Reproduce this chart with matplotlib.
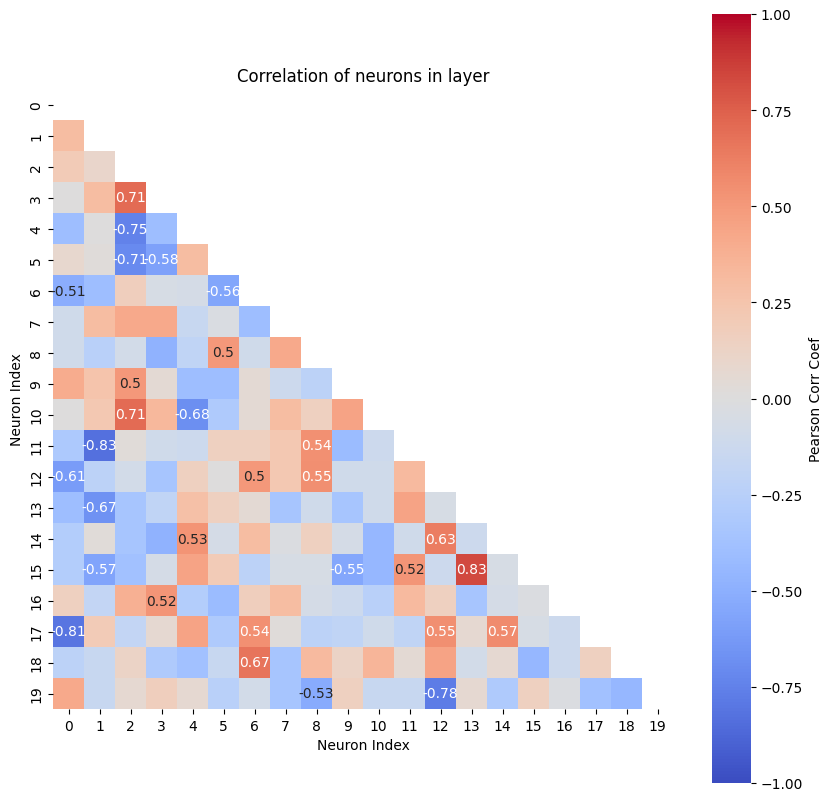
import numpy as np
import matplotlib
matplotlib.use("Agg")
import matplotlib.pyplot as plt
import seaborn as sns

# lower triangle of the correlation matrix, row i holds columns 0..i-1
lower = [
    [],
    [0.30],
    [0.20, 0.10],
    [0.00, 0.30, 0.71],
    [-0.40, 0.00, -0.75, -0.40],
    [0.08, 0.02, -0.71, -0.58, 0.30],
    [-0.51, -0.40, 0.17, -0.05, -0.07, -0.56],
    [-0.10, 0.30, 0.42, 0.42, -0.15, -0.03, -0.40],
    [-0.10, -0.25, -0.08, -0.48, -0.20, 0.50, -0.10, 0.42],
    [0.40, 0.25, 0.50, 0.05, -0.40, -0.40, 0.05, -0.12, -0.22],
    [0.00, 0.22, 0.71, 0.33, -0.68, -0.30, 0.05, 0.30, 0.15, 0.45],
    [-0.32, -0.83, 0.03, -0.10, -0.12, 0.15, 0.15, 0.22, 0.54, -0.42, -0.12],
    [-0.61, -0.22, -0.08, -0.35, 0.15, 0.00, 0.50, 0.22, 0.55, -0.10, -0.10, 0.32],
    [-0.40, -0.67, -0.35, -0.20, 0.28, 0.15, 0.05, -0.35, -0.10, -0.35, -0.10, 0.45, -0.05],
    [-0.28, 0.03, -0.35, -0.48, 0.53, -0.07, 0.30, -0.02, 0.15, -0.07, -0.45, -0.10, 0.63, -0.12],
    [-0.28, -0.57, -0.38, -0.07, 0.45, 0.20, -0.22, -0.05, -0.05, -0.55, -0.45, 0.52, -0.12, 0.83, -0.05],
    [0.15, -0.18, 0.38, 0.52, -0.28, -0.42, 0.17, 0.30, -0.07, -0.12, -0.25, 0.32, 0.15, -0.35, -0.07, -0.02],
    [-0.81, 0.20, -0.18, 0.07, 0.45, -0.30, 0.54, 0.02, -0.22, -0.20, -0.10, -0.20, 0.55, 0.07, 0.57, -0.05, -0.12],
    [-0.22, -0.15, 0.12, -0.30, -0.38, -0.15, 0.67, -0.35, 0.32, 0.12, 0.35, 0.05, 0.45, -0.08, 0.07, -0.45, -0.12, 0.15],
    [0.42, -0.15, 0.07, 0.17, 0.07, -0.25, -0.08, -0.35, -0.53, 0.15, -0.15, -0.15, -0.78, 0.07, -0.30, 0.15, -0.02, -0.38, -0.45],
]

n = len(lower)
corr = np.eye(n)
for i, row in enumerate(lower):
    for j, v in enumerate(row):
        corr[i, j] = v
        corr[j, i] = v

mask = np.triu(np.ones_like(corr, dtype=bool))
labels = np.where(np.abs(corr) >= 0.5, np.vectorize(lambda v: f"{v:g}")(corr), "")

W, H = 832, 803
fig = plt.figure(figsize=(W / 100, H / 100), dpi=100)
ax = fig.add_axes([53 / W, (H - 710) / H, 620 / W, 620 / H])
cax = fig.add_axes([712 / W, (H - 784) / H, 39 / W, 769 / H])

sns.heatmap(corr, mask=mask, cmap="coolwarm", vmin=-1, vmax=1,
            annot=labels, fmt="", square=True, ax=ax, cbar_ax=cax,
            cbar_kws={"label": "Pearson Corr Coef"})

ax.set_title("Correlation of neurons in layer")
ax.set_xlabel("Neuron Index")
ax.set_ylabel("Neuron Index")
cax.set_yticks(np.arange(-1, 1.01, 0.25))

fig.savefig("out.png", dpi=100)
